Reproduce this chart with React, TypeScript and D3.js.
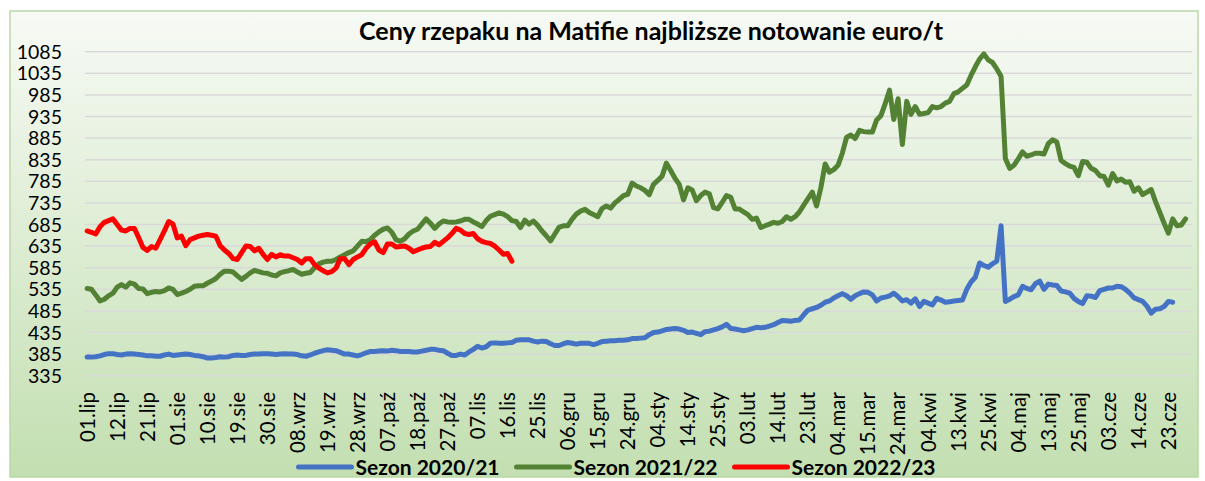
import React from "react";
import * as d3 from "d3";

const N_CATEGORIES = 258;

const tickLabels = [
  "01.lip","12.lip","21.lip","01.sie","10.sie","19.sie","30.sie","08.wrz","19.wrz","28.wrz",
  "07.paź","18.paź","27.paź","07.lis","16.lis","25.lis","06.gru","15.gru","24.gru","04.sty",
  "14.sty","25.sty","03.lut","14.lut","23.lut","04.mar","15.mar","24.mar","04.kwi","13.kwi",
  "25.kwi","04.maj","13.maj","25.maj","03.cze","14.cze","23.cze"
];
const TICK_STEP = 7;

const yTicks = [335, 385, 435, 485, 535, 585, 635, 685, 735, 785, 835, 885, 935, 985, 1035, 1085];

const season2020 = [
  378,378,379,381,384,386,386,384,383,385,386,385,384,383,381,381,380,380,383,385,
  382,383,384,385,384,382,381,379,376,376,377,379,378,379,382,383,382,382,384,385,
  385,386,386,385,384,385,386,385,385,384,381,380,383,387,390,393,395,394,393,389,
  385,385,383,381,384,388,391,391,392,393,392,394,393,391,391,391,390,390,392,394,
  396,396,394,393,387,382,382,385,383,390,396,403,399,402,410,411,410,410,411,412,
  417,418,418,418,415,413,415,414,409,405,405,409,412,410,408,410,410,410,407,410,
  414,415,416,416,417,417,418,421,421,422,423,430,435,436,439,442,443,444,443,440,
  435,436,433,430,437,438,441,444,448,454,444,443,441,439,441,444,447,446,447,450,
  453,458,463,462,461,463,464,476,487,490,493,498,505,508,515,520,525,520,512,520,
  525,529,528,522,508,515,517,520,526,518,508,511,503,513,495,507,503,499,514,510,
  505,506,508,509,510,535,552,563,596,590,586,594,600,682,507,512,518,522,542,537,
  534,548,554,535,547,545,544,531,529,526,514,507,502,520,519,516,532,535,538,538,
  542,541,535,526,515,511,507,496,480,489,490,495,507,505
];

const season2021 = [
  537,535,522,508,512,520,526,540,546,540,550,547,537,536,525,528,530,529,532,538,
  535,523,526,530,535,542,543,543,549,554,560,570,577,577,575,566,558,565,573,579,
  576,573,572,568,566,573,576,578,581,575,570,572,574,585,594,598,600,600,604,610,
  615,620,624,635,646,645,650,660,668,674,677,667,650,646,652,663,670,674,686,698,
  688,676,686,693,691,690,691,693,697,697,691,686,680,694,704,708,712,709,703,694,
  692,678,695,686,693,683,670,659,647,663,679,682,682,697,709,716,720,713,708,703,
  722,728,723,735,743,752,755,781,774,770,764,754,778,787,797,827,810,792,778,742,
  770,765,740,752,760,756,724,721,736,752,748,721,721,714,708,697,700,678,682,686,
  690,688,692,703,697,703,714,730,745,760,728,770,825,806,812,822,850,887,892,884,
  903,900,899,899,927,937,965,996,928,976,870,970,940,958,940,942,944,958,955,958,
  966,970,988,992,1000,1008,1030,1050,1068,1080,1066,1060,1045,1028,838,815,822,837,853,843,
  846,850,850,848,872,881,876,833,826,820,817,798,831,829,815,810,798,796,776,803,
  786,790,783,784,762,770,754,760,766,738,713,688,665,698,682,684,698
];

const season2022 = [
  670,667,663,680,690,694,698,685,672,670,676,676,655,632,625,634,630,650,670,692,
  686,654,658,636,650,654,658,660,662,660,658,636,626,618,606,604,620,635,634,624,
  630,616,604,616,610,615,612,612,608,604,596,606,606,592,584,578,573,576,584,606,
  606,592,604,610,615,630,640,645,626,620,640,640,633,634,635,630,622,626,630,633,
  634,644,638,646,654,664,676,672,664,662,664,652,646,643,641,635,626,616,618,600
];

const seriesNames = ["Sezon 2020/21", "Sezon 2021/22", "Sezon 2022/23"];
const seriesColors = ["#4472c4", "#548235", "#ff0000"];
const seriesData = [season2020, season2021, season2022];

const W = 1205, H = 481;
const M = { left: 85, right: 1192, top: 51.7, bottom: 375.7 };
const FONT = "Lato, 'Open Sans', sans-serif";

export default function App() {
  const x = d3.scaleBand<number>().domain(d3.range(N_CATEGORIES)).range([M.left, M.right]);
  const cx = (i: number) => (x(i) as number) + x.bandwidth() / 2;
  const y = d3.scaleLinear().domain([335, 1085]).range([M.bottom, M.top]);
  const line = d3.line<number>().x((_, i) => cx(i)).y((d) => y(d));

  const legendX = [298.5, 516.5, 734.5];

  return (
    <svg width={W} height={H} style={{ position: "absolute", left: 0, top: 0 }} fontFamily={FONT}>
      <defs>
        <linearGradient id="bg" x1="0" y1="0" x2="0" y2="1">
          <stop offset="0%" stopColor="#f7faf5" />
          <stop offset="100%" stopColor="#c3dfb1" />
        </linearGradient>
      </defs>
      <rect x={0} y={0} width={W} height={H} fill="#ffffff" />
      <rect x={10} y={11} width={1188} height={466} fill="url(#bg)" stroke="#b9d9a6" strokeWidth={1.5} />

      <text x={651} y={40} textAnchor="middle" fontWeight="bold" fontSize={25} fill="#000">
        Ceny rzepaku na Matifie najbliższe notowanie euro/t
      </text>

      {yTicks.map((t) => (
        <g key={t}>
          <line x1={M.left} x2={M.right} y1={y(t)} y2={y(t)} stroke="#d9d9d9" strokeWidth={1.5} />
          <text x={62} y={y(t)} dy="0.36em" textAnchor="end" fontSize={19.5} fill="#000">
            {t}
          </text>
        </g>
      ))}

      {tickLabels.map((lab, k) => {
        const px = cx(k * TICK_STEP);
        return (
          <text
            key={lab}
            transform={`translate(${px},392) rotate(-90)`}
            dy="0.36em"
            textAnchor="end"
            fontSize={20.5}
            fill="#000"
          >
            {lab}
          </text>
        );
      })}

      {seriesData.map((d, s) => (
        <path
          key={s}
          d={line(d) as string}
          fill="none"
          stroke={seriesColors[s]}
          strokeWidth={5}
          strokeLinejoin="round"
          strokeLinecap="round"
        />
      ))}

      {seriesNames.map((name, s) => (
        <g key={name}>
          <line
            x1={legendX[s]}
            x2={legendX[s] + 53}
            y1={467}
            y2={467}
            stroke={seriesColors[s]}
            strokeWidth={5}
            strokeLinecap="round"
          />
          <text x={legendX[s] + 57} y={467} dy="0.36em" fontWeight="bold" fontSize={21} fill="#000">
            {name}
          </text>
        </g>
      ))}
    </svg>
  );
}
